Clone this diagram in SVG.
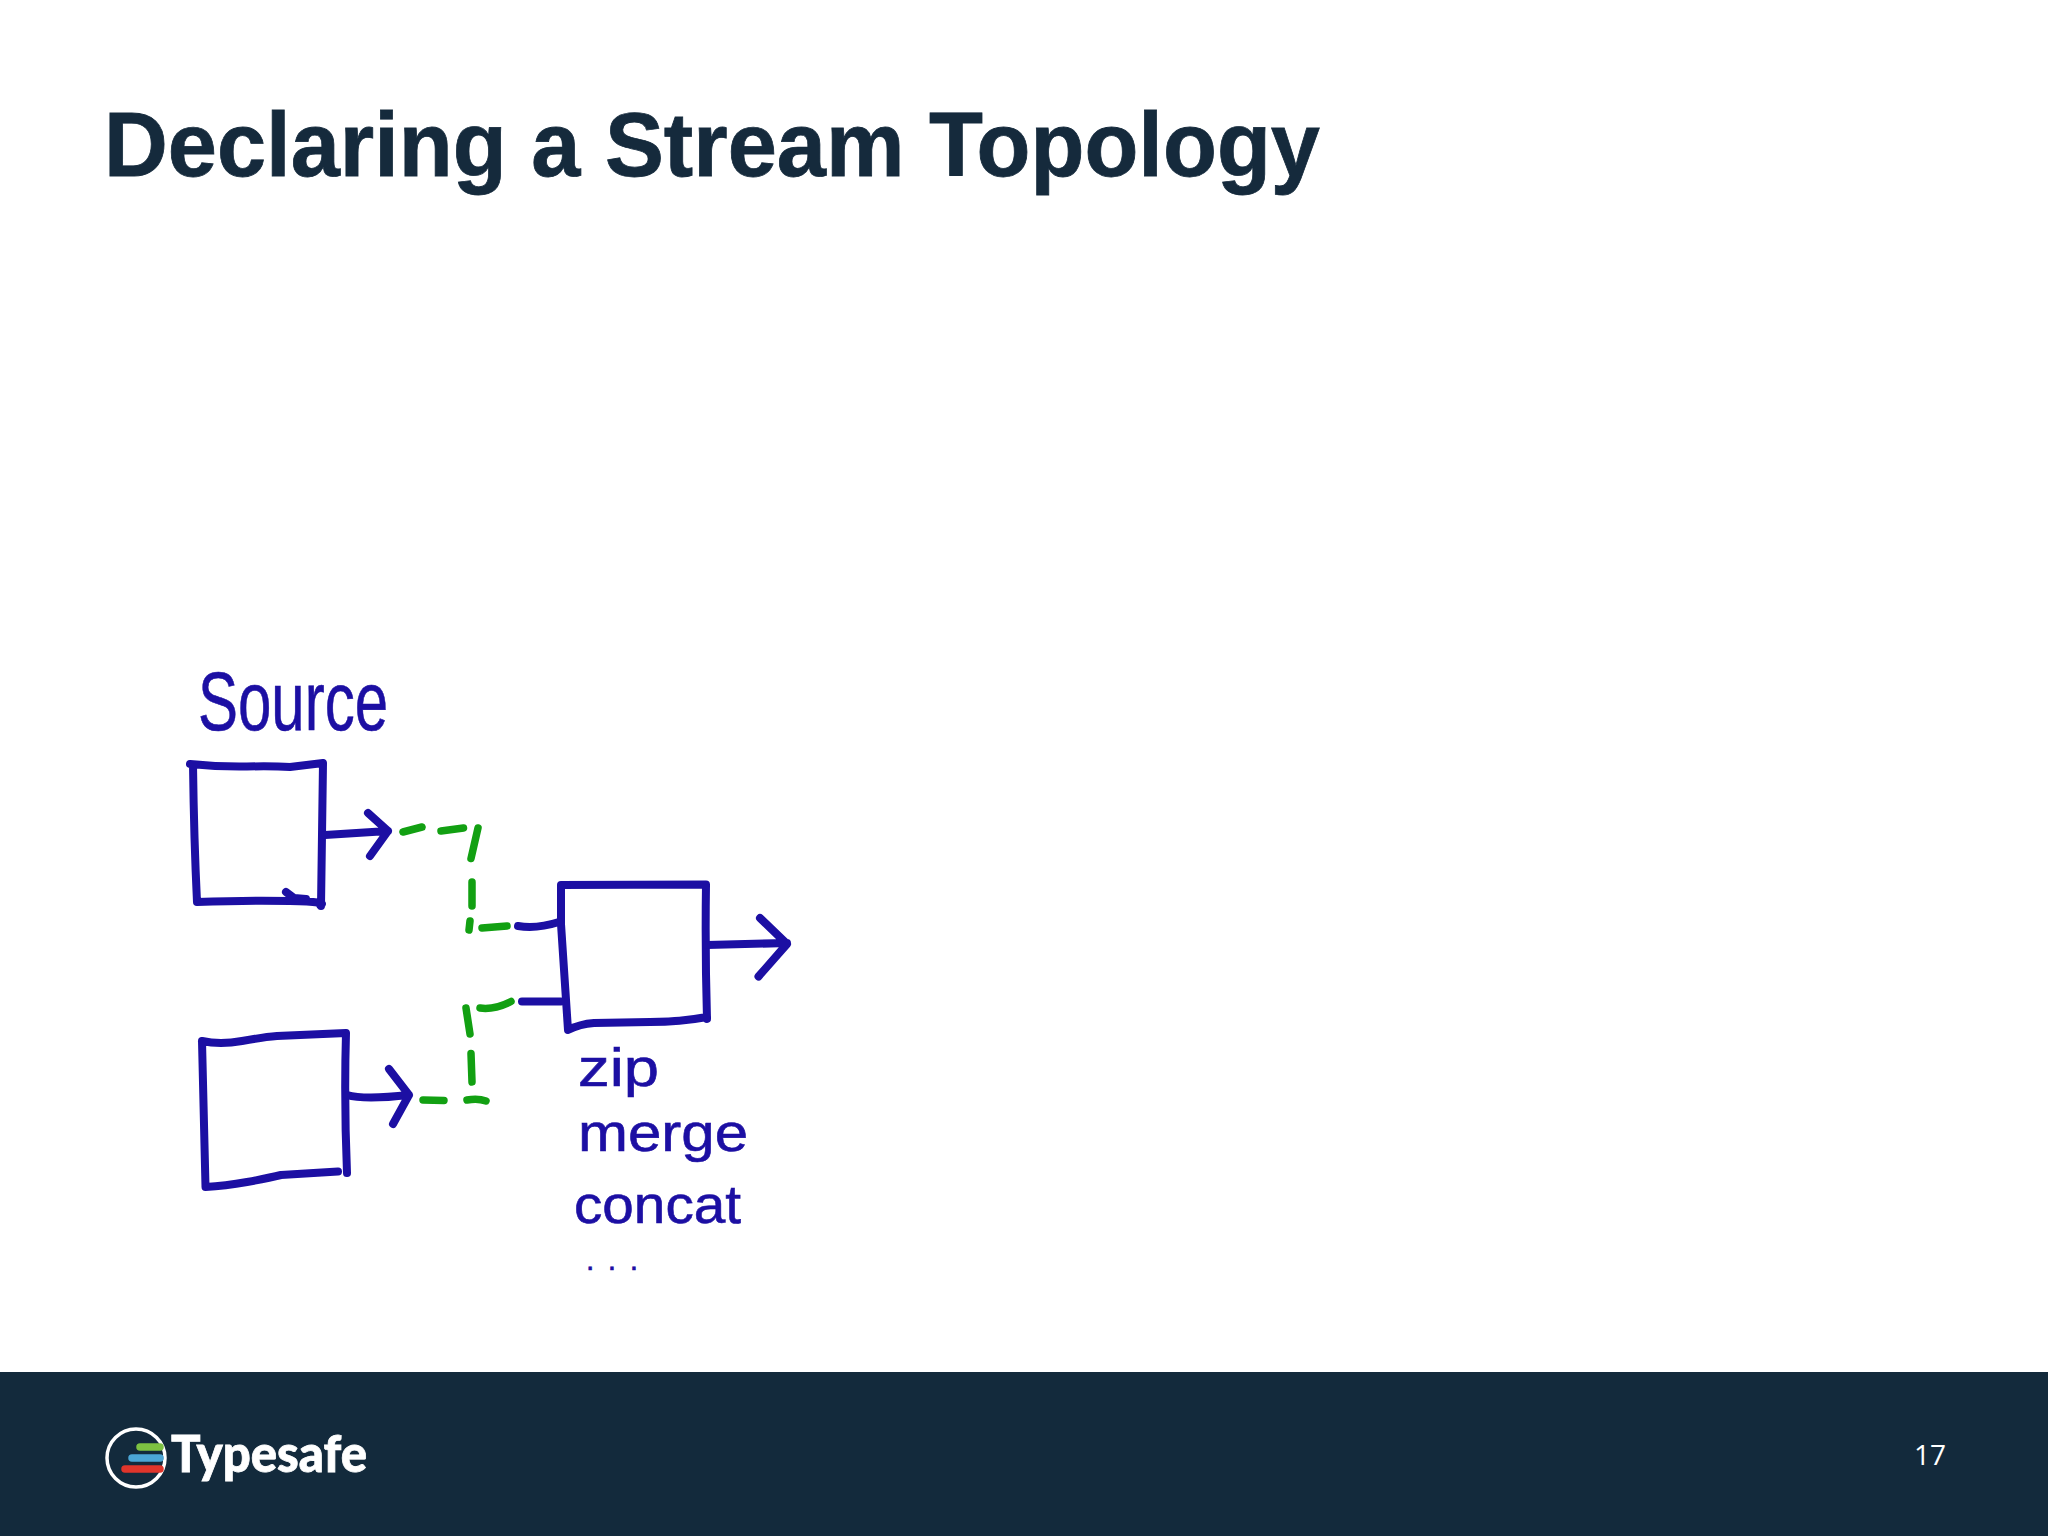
<svg xmlns="http://www.w3.org/2000/svg" width="2048" height="1536" viewBox="0 0 2048 1536">
<style>
.b{fill:none;stroke:#1c0fa3;stroke-width:8;stroke-linecap:round;stroke-linejoin:round}
.g{fill:none;stroke:#12a012;stroke-width:7.500;stroke-linecap:round;stroke-linejoin:round}
.h{font-family:"Liberation Sans",Arial,sans-serif;fill:#1c0fa3;stroke:#1c0fa3;stroke-width:0.600}
.bar{stroke-width:7.500;stroke-linecap:round;fill:none}
</style>
<rect width="2048" height="1536" fill="#ffffff"/>
<text id="title" x="104" y="176" font-family="'Liberation Sans',Arial,sans-serif" font-weight="700" font-size="90" fill="#152a3c" stroke="#152a3c" stroke-width="0.800" textLength="1216" lengthAdjust="spacingAndGlyphs">Declaring a Stream Topology</text>
<g id="source-label"><text class="h" x="198" y="730" font-size="84" textLength="190" lengthAdjust="spacingAndGlyphs">Source</text></g>
<g id="source-1">
<path class="b" d="M190 764Q220 767 247 766.500T290 767L323 763Q322 840 321 906M193 765Q194 840 197 902Q250 900 290 901T320 905M286 892L294 898L306 899"/>
</g>
<g id="source-2">
<path class="b" d="M202 1041Q220 1045 242 1041T277 1036L346 1033Q344 1100 347 1173M202 1041L205.500 1187Q225 1186 247 1182T281 1175L338 1171.500"/>
</g>
<g id="junction">
<path class="b" d="M561 885L706 884.500Q705 950 707 1019M561 885L561 924L568 1030Q580 1024 594 1023L650 1022Q680 1022 707 1017"/>
</g>
<g id="junction-labels">
<text class="h" x="578" y="1086" font-size="54" textLength="81" lengthAdjust="spacingAndGlyphs">zip</text>
<text class="h" x="578" y="1151" font-size="54" textLength="170" lengthAdjust="spacingAndGlyphs">merge</text>
<text class="h" x="574" y="1223" font-size="54" textLength="167" lengthAdjust="spacingAndGlyphs">concat</text>
<text class="h" x="586" y="1270" font-size="30" stroke-width="4" textLength="52" lengthAdjust="spacing">...</text>
</g>
<g id="connectors">
<path class="b" d="M325 835L388 831M368 813L388 831L370 856"/>
<path class="b" d="M347 1095Q364 1100 409 1095M389 1069L409 1095L393 1124"/>
<path class="b" d="M707 945L787 943M760 918L787 944L758.500 976.500"/>
<path class="b" d="M518 926Q537 929 559 922M522 1001.500L561 1001.500"/>
<path class="g" d="M403 832L422 827M441 831L463.500 828M478 828L471 858.500M472 882L472 906M470 921L469 930M482 928L507 926"/>
<path class="g" d="M423 1100L444 1100.500M467 1100Q478 1098 486 1101M466 1008L470 1034M471 1053.500L472 1082M480 1008Q494 1010 511 1001.500"/>
</g>
<rect id="footer" x="0" y="1372" width="2048" height="164" fill="#132a3c"/>
<g id="logo">
<circle cx="136" cy="1458" r="29" fill="none" stroke="#ffffff" stroke-width="3.500"/>
<path class="bar" stroke="#7dc242" d="M140 1447H160"/>
<path class="bar" stroke="#4ba6d6" d="M132 1458H160"/>
<path class="bar" stroke="#e0352b" d="M125 1469H160"/>
<text x="171" y="1472" font-family="Lato,'Open Sans',sans-serif" font-weight="900" font-size="52" fill="#ffffff" stroke="#ffffff" stroke-width="0.800" textLength="196" lengthAdjust="spacingAndGlyphs">Typesafe</text>
</g>
<text id="page-number" x="1914" y="1465" font-family="'Open Sans','Noto Sans',sans-serif" font-size="28" fill="#ffffff">17</text>
</svg>
